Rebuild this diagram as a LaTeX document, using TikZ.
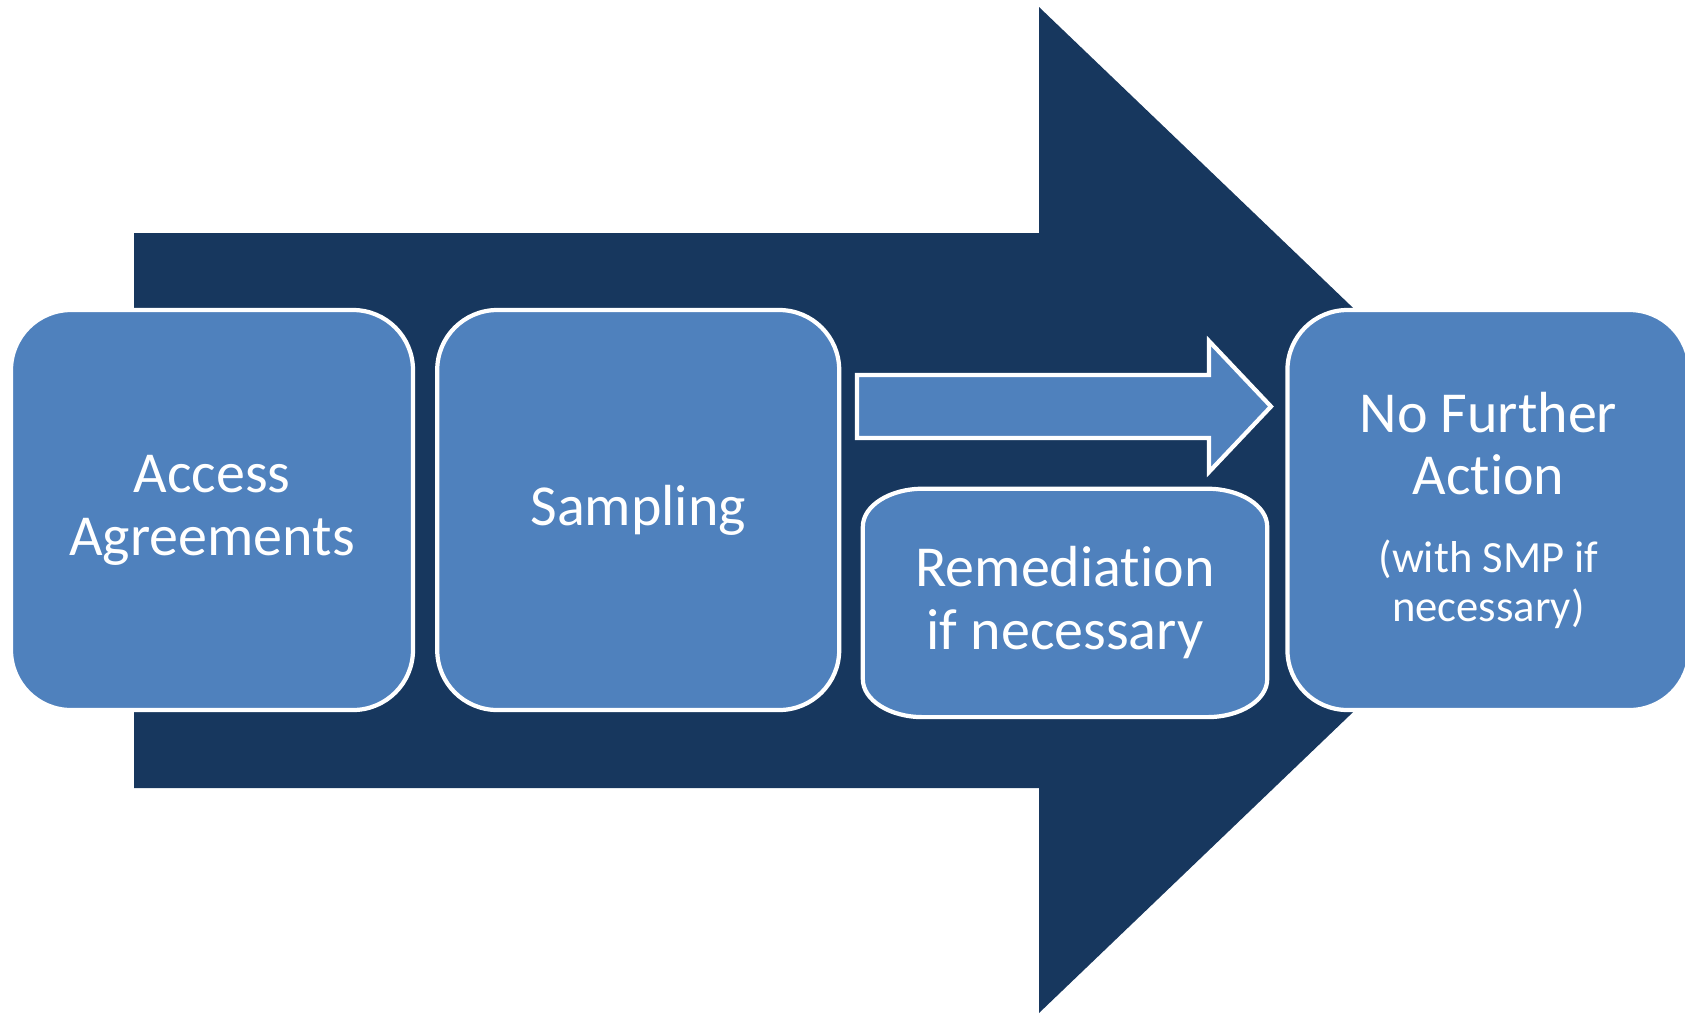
\documentclass[tikz,border=0pt]{standalone}
\usepackage{fontspec}
\setmainfont{Carlito}[Ligatures=NoCommon]
\usepackage{tikz}
\usetikzlibrary{positioning}
\usetikzlibrary{backgrounds}
\definecolor{Office-1}{RGB}{79,129,189}
\definecolor{Office-2}{RGB}{23,55,94}

\begin{document}
\begin{tikzpicture}
    \tikzset{ stg/.style={draw=white, line width=1.2pt, fill=Office-1, rounded corners=0.6cm, text=white, minimum width=4.02cm, minimum height=4.0cm, font=\fontsize{16.5}{17.9}\selectfont} }
    \tikzset{ opt/.style={text=white, minimum width=4.03cm, minimum height=2.27cm, font=\fontsize{16.5}{17.9}\selectfont} }
    \tikzset{ arw/.style={draw=white, line width=1.2pt, fill=Office-1} }

    \useasboundingbox (0,0) rectangle (16.85,-10.15);

    \node[stg,                       align=center] (s1) at (2.12,-5.10) {Access\\Agreements};
    \node[stg, right=0.20cm of s1,   align=center] (s2)                 {Sampling};
    \node[opt, anchor=south west,    align=center] (s3) at ([xshift=0.215cm, yshift=-0.05cm]s2.south east) {Remediation\\if necessary};
    \node[stg, right=4.44cm of s2, text width=3.6cm, align=flush center] (s4) {{\fontsize{16.5}{17.9}\selectfont No Further\\Action\par}\vspace{8.5pt}{\fontsize{12.7}{13.7}\selectfont (with SMP if\\necessary)\par}};

    \begin{scope}[on background layer]
    % big arrow behind the stages
    \fill[Office-2] (1.34,-2.33) -- (10.39,-2.33) -- (10.39,-0.07) -- (15.64,-5.10) -- (10.39,-10.13) -- (10.39,-7.88) -- (1.34,-7.88) -- cycle;
    % box of s3, flat corners
    \filldraw[arw] ([xshift=0.6cm]s3.north west) -- ([xshift=-0.6cm]s3.north east)
        arc[start angle=90, end angle=0, x radius=0.6cm, y radius=0.38cm] -- ([yshift=0.38cm]s3.south east)
        arc[start angle=0, end angle=-90, x radius=0.6cm, y radius=0.38cm] -- ([xshift=0.6cm]s3.south west)
        arc[start angle=270, end angle=180, x radius=0.6cm, y radius=0.38cm] -- ([yshift=-0.38cm]s3.north west)
        arc[start angle=180, end angle=90, x radius=0.6cm, y radius=0.38cm] -- cycle;
    \end{scope}

    \filldraw[arw] (8.57,-3.75) -- (12.09,-3.75) -- (12.09,-3.41) -- (12.71,-4.065) -- (12.09,-4.72) -- (12.09,-4.38) -- (8.57,-4.38) -- cycle;
\end{tikzpicture}
\end{document}
